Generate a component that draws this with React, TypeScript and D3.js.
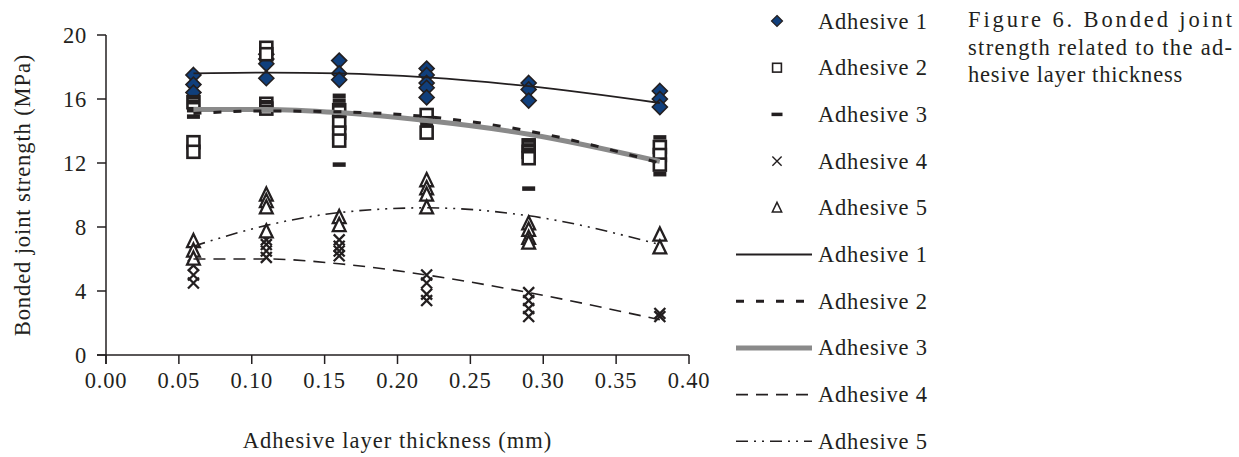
import React from "react";
import * as d3 from "d3";

// thickness (mm) at which the joints were tested
const thickness = [0.06, 0.11, 0.16, 0.22, 0.29, 0.38];

// measured strengths (MPa), one list per thickness
const adhesive1Points = [
  [17.5, 16.9, 16.4],
  [18.8, 18.5, 18.2, 17.3],
  [18.4, 17.6, 17.2],
  [17.9, 17.5, 17.0, 16.7, 16.1],
  [17.0, 16.6, 15.9],
  [16.5, 16.0, 15.5],
];
const adhesive2Points = [
  [15.8, 13.3, 12.7],
  [19.2, 18.8, 15.7, 15.4],
  [15.3, 14.5, 13.9, 13.4],
  [15.0, 13.9],
  [13.1, 12.7, 12.3],
  [13.0, 12.5, 11.9],
];
const adhesive3Points = [
  [16.1, 15.8, 15.3, 14.9],
  [15.8, 15.5, 15.3],
  [16.2, 15.9, 15.6, 11.9],
  [14.8, 14.4],
  [13.4, 13.1, 12.8, 10.4],
  [13.6, 11.3],
];
const adhesive4Points = [
  [5.6, 5.0, 4.5],
  [7.2, 6.9, 6.5, 6.1],
  [7.2, 6.8, 6.5, 6.2],
  [5.0, 4.5, 3.8, 3.4],
  [3.9, 3.4, 2.9, 2.4],
  [2.6, 2.4],
];
const adhesive5Points = [
  [7.1, 6.5, 6.0],
  [10.0, 9.6, 9.2, 7.7],
  [8.6, 8.1],
  [10.9, 10.4, 10.0, 9.2],
  [8.2, 7.8, 7.3, 7.0],
  [7.5, 6.7],
];

// trend line values at each thickness
const adhesive1Fit = [17.6, 17.65, 17.6, 17.35, 16.8, 15.75];
const adhesive2Fit = [15.1, 15.25, 15.2, 14.9, 14.0, 12.0];
const adhesive3Fit = [15.35, 15.35, 15.15, 14.65, 13.8, 12.1];
const adhesive4Fit = [6.0, 6.0, 5.7, 5.0, 3.9, 2.2];
const adhesive5Fit = [6.8, 8.1, 8.9, 9.2, 8.7, 6.9];

const xTicks = [0, 0.05, 0.1, 0.15, 0.2, 0.25, 0.3, 0.35, 0.4];
const yTicks = [0, 4, 8, 12, 16, 20];
const seriesNames = ["Adhesive 1", "Adhesive 2", "Adhesive 3", "Adhesive 4", "Adhesive 5"];
const captionLines = ["Figure 6. Bonded joint", "strength related to the ad-", "hesive layer thickness"];

const FONT = "'Liberation Serif', 'DejaVu Serif', serif";
const INK = "#231f20";
const NAVY = "#103f7c";

// draws one marker of given kind centered at 0,0 inside g
function drawMarker(g, kind, s, big) {
  if (kind === "diamond") {
    g.append("path")
      .attr("d", `M0,${-s / 2}L${s / 2},0L0,${s / 2}L${-s / 2},0Z`)
      .attr("fill", NAVY).attr("stroke", INK).attr("stroke-width", big ? 1.6 : 1.2);
  } else if (kind === "square") {
    const h = s * 0.8;
    g.append("rect").attr("x", -h / 2).attr("y", -h / 2).attr("width", h).attr("height", h)
      .attr("fill", "white").attr("stroke", INK).attr("stroke-width", big ? 2.6 : 1.6);
  } else if (kind === "dash") {
    const th = big ? 4.5 : 3.5;
    g.append("rect").attr("x", -s / 2).attr("y", -th / 2).attr("width", s).attr("height", th)
      .attr("fill", INK);
  } else if (kind === "cross") {
    const h = s * 0.42;
    g.append("path")
      .attr("d", `M${-h},${-h}L${h},${h}M${-h},${h}L${h},${-h}`)
      .attr("stroke", INK).attr("stroke-width", big ? 2.3 : 1.4).attr("fill", "none");
  } else if (kind === "triangle") {
    const h = s * 0.5;
    g.append("path")
      .attr("d", `M0,${-h}L${h * 0.85},${h * 0.75}L${-h * 0.85},${h * 0.75}Z`)
      .attr("fill", "white").attr("stroke", INK).attr("stroke-width", big ? 2.3 : 1.5);
  }
}

const App = () => {
  const svgRef = React.useRef(null);
  const width = 1239;
  const height = 457;

  React.useEffect(() => {
    const svg = d3.select(svgRef.current);
    svg.selectAll("*").remove();

    const xScale = d3.scaleLinear().domain([0, 0.4]).range([106, 689]);
    const yScale = d3.scaleLinear().domain([0, 20]).range([355, 35]);

    // axes
    const axes = svg.append("g").attr("font-family", FONT).attr("fill", INK);
    axes.append("line").attr("x1", 106).attr("x2", 106).attr("y1", yScale(20)).attr("y2", yScale(0) + 9)
      .attr("stroke", INK).attr("stroke-width", 1.5);
    axes.append("line").attr("x1", 97).attr("x2", xScale(0.4)).attr("y1", yScale(0)).attr("y2", yScale(0))
      .attr("stroke", INK).attr("stroke-width", 1.5);
    yTicks.forEach((t) => {
      axes.append("line").attr("x1", 97).attr("x2", 106).attr("y1", yScale(t)).attr("y2", yScale(t))
        .attr("stroke", INK).attr("stroke-width", 1.5);
      axes.append("text").attr("x", 87).attr("y", yScale(t) + 7.5).attr("text-anchor", "end")
        .attr("font-size", 22.5).attr("letter-spacing", 0.8).text(t);
    });
    xTicks.forEach((t) => {
      axes.append("line").attr("x1", xScale(t)).attr("x2", xScale(t)).attr("y1", yScale(0)).attr("y2", yScale(0) + 9)
        .attr("stroke", INK).attr("stroke-width", 1.5);
      axes.append("text").attr("x", xScale(t)).attr("y", 388).attr("text-anchor", "middle")
        .attr("font-size", 22.5).attr("letter-spacing", 0.8).text(t.toFixed(2));
    });
    axes.append("text").attr("x", xScale(0.2)).attr("y", 448).attr("text-anchor", "middle")
      .attr("font-size", 22.5).attr("letter-spacing", 1).text("Adhesive layer thickness (mm)");
    axes.append("text").attr("transform", `translate(30,${(yScale(0) + yScale(20)) / 2}) rotate(-90)`)
      .attr("text-anchor", "middle").attr("font-size", 22.5).attr("letter-spacing", 0.9)
      .text("Bonded joint strength (MPa)");

    // markers
    const pointSets = [adhesive1Points, adhesive2Points, adhesive3Points, adhesive4Points, adhesive5Points];
    const kinds = ["diamond", "square", "dash", "cross", "triangle"];
    const sizes = [15, 15, 13, 13, 15];
    pointSets.forEach((set, si) => {
      set.forEach((vals, ti) => {
        vals.forEach((v) => {
          const g = svg.append("g").attr("transform", `translate(${xScale(thickness[ti])},${yScale(v)})`);
          drawMarker(g, kinds[si], sizes[si], true);
        });
      });
    });

    // trend lines
    const fits = [adhesive1Fit, adhesive2Fit, adhesive3Fit, adhesive4Fit, adhesive5Fit];
    const lineStyles = [
      { stroke: INK, width: 1.8, dash: null },
      { stroke: INK, width: 3, dash: "8,12" },
      { stroke: "#8a8a8a", width: 5, dash: null },
      { stroke: INK, width: 1.6, dash: "12,8" },
      { stroke: INK, width: 1.6, dash: "12,6,2,6,2,6" },
    ];
    const line = d3.line()
      .x((d, i) => xScale(thickness[i]))
      .y((d) => yScale(d))
      .curve(d3.curveMonotoneX);
    const drawOrder = [0, 2, 1, 3, 4];
    drawOrder.forEach((i) => {
      const st = lineStyles[i];
      svg.append("path").attr("d", line(fits[i])).attr("fill", "none")
        .attr("stroke", st.stroke).attr("stroke-width", st.width)
        .attr("stroke-dasharray", st.dash);
    });

    // legend
    const legend = svg.append("g").attr("font-family", FONT).attr("fill", INK);
    const rowY = (i) => 21 + i * 46.7;
    seriesNames.forEach((name, i) => {
      const g = legend.append("g").attr("transform", `translate(777,${rowY(i)})`);
      drawMarker(g, kinds[i], 11, false);
      legend.append("text").attr("x", 818).attr("y", rowY(i) + 7.5).attr("font-size", 22.5)
        .attr("letter-spacing", 0.8).text(name);
    });
    seriesNames.forEach((name, i) => {
      const y = rowY(i + 5);
      const st = lineStyles[i];
      legend.append("line").attr("x1", 736).attr("x2", 812).attr("y1", y).attr("y2", y)
        .attr("stroke", st.stroke).attr("stroke-width", st.width).attr("stroke-dasharray", st.dash);
      legend.append("text").attr("x", 818).attr("y", y + 7.5).attr("font-size", 22.5)
        .attr("letter-spacing", 0.8).text(name);
    });

    // caption
    const cap = svg.append("g").attr("font-family", FONT).attr("fill", INK).attr("font-size", 22.5);
    captionLines.forEach((t, i) => {
      const tx = cap.append("text").attr("x", 968).attr("y", 27 + i * 27.5).text(t);
      if (i < 2) tx.attr("textLength", 264).attr("lengthAdjust", "spacing");
      else tx.attr("letter-spacing", 0.8);
    });
  }, []);

  return (
    <svg ref={svgRef} width={width} height={height}
      style={{ position: "absolute", left: 0, top: 0, background: "white" }} />
  );
};

export default App;
